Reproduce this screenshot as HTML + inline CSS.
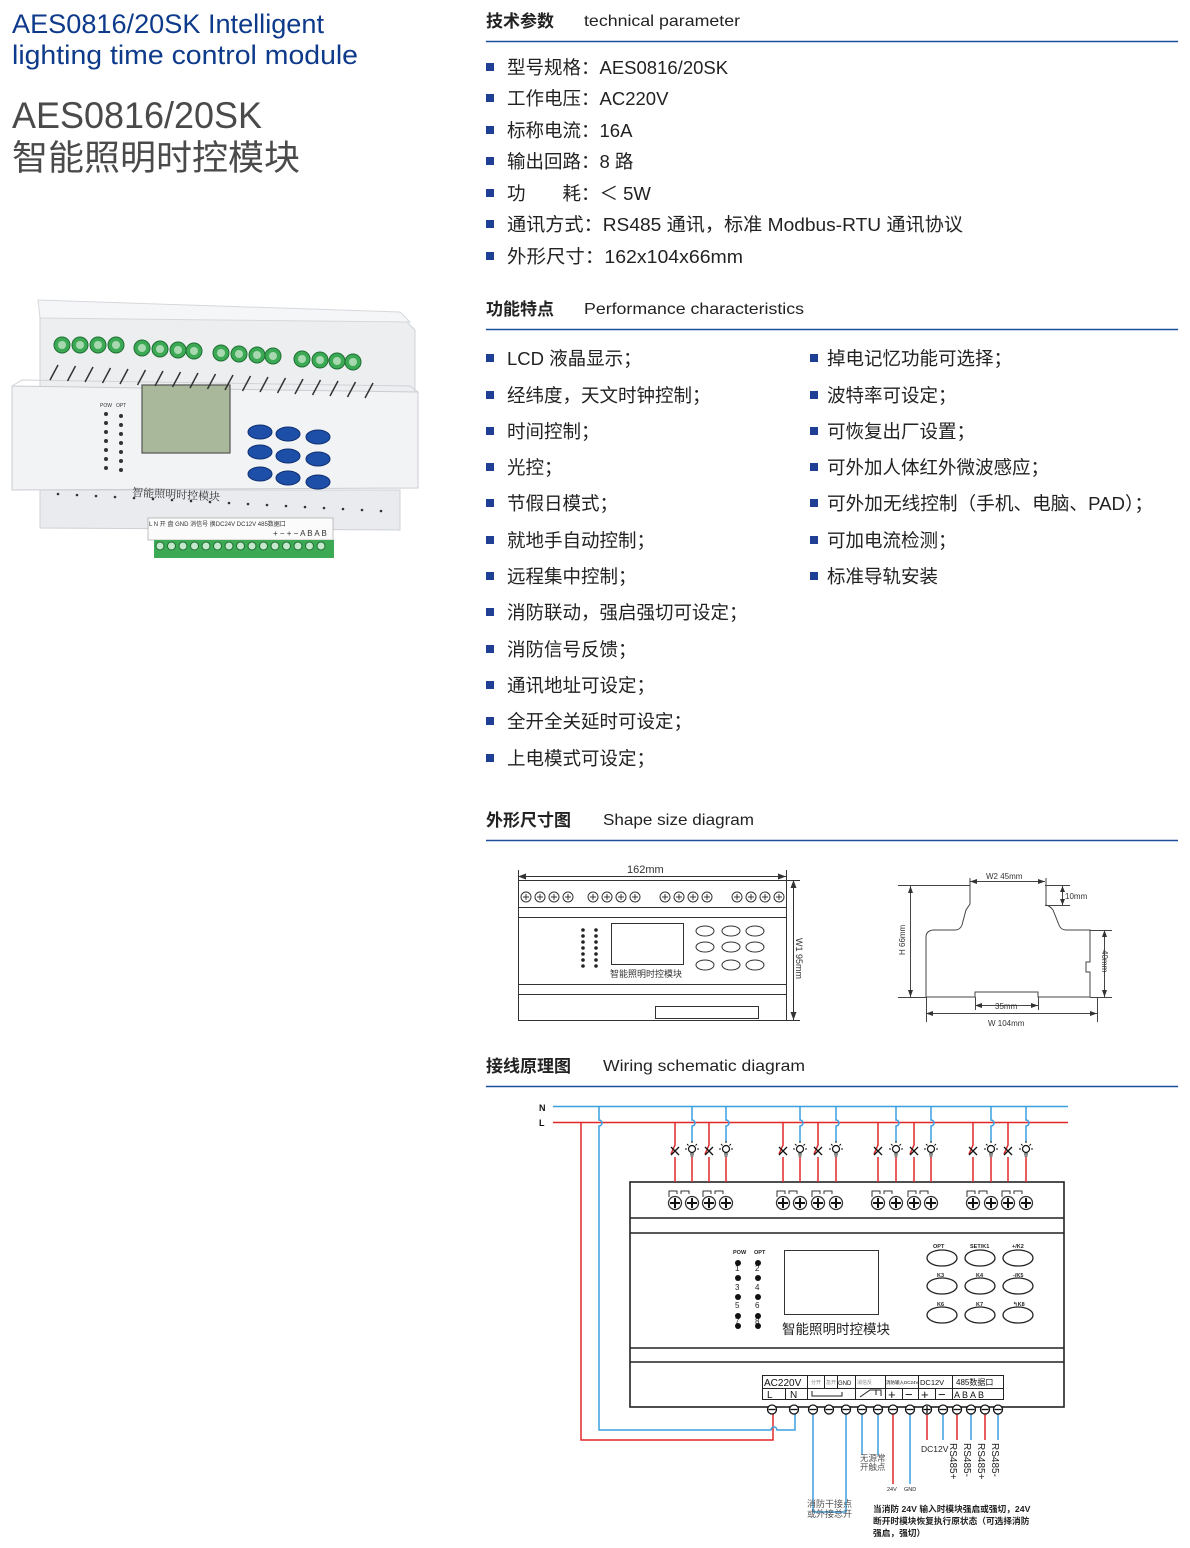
<!DOCTYPE html>
<html><head><meta charset="utf-8">
<style>
html,body{margin:0;padding:0;background:#fff;}
body{width:1190px;height:1548px;overflow:hidden;position:relative;}
svg{position:absolute;left:0;top:0;}
.f{font-family:"Liberation Sans","Noto Sans CJK SC",sans-serif;}
</style></head><body>
<svg id="s" width="1190" height="1548" viewBox="0 0 1190 1548" class="f">
<!-- title -->
<text x="12" y="33" font-size="27" fill="#0d3a8a" textLength="312" lengthAdjust="spacingAndGlyphs">AES0816/20SK  Intelligent</text>
<text x="12" y="64" font-size="27" fill="#0d3a8a" textLength="346" lengthAdjust="spacingAndGlyphs">lighting time control module</text>
<text x="12" y="128" font-size="37" fill="#4a4a4a" textLength="250" lengthAdjust="spacingAndGlyphs">AES0816/20SK</text>
<text x="12" y="170" font-size="35" fill="#4a4a4a" font-family="Noto Sans CJK SC,sans-serif" textLength="288" lengthAdjust="spacingAndGlyphs">智能照明时控模块</text>

<!-- headings -->
<g fill="#222">
<text x="486" y="27" font-size="17" font-weight="bold">技术参数</text>
<text x="584" y="26" font-size="16" textLength="156" lengthAdjust="spacingAndGlyphs">technical parameter</text>
<text x="486" y="315" font-size="17" font-weight="bold">功能特点</text>
<text x="584" y="314" font-size="16" textLength="220" lengthAdjust="spacingAndGlyphs">Performance  characteristics</text>
<text x="486" y="826" font-size="17" font-weight="bold">外形尺寸图</text>
<text x="603" y="825" font-size="16" textLength="151" lengthAdjust="spacingAndGlyphs">Shape size diagram</text>
<text x="486" y="1072" font-size="17" font-weight="bold">接线原理图</text>
<text x="603" y="1071" font-size="16" textLength="202" lengthAdjust="spacingAndGlyphs">Wiring schematic diagram</text>
</g>
<g stroke="#1f4e9a" stroke-width="1.6">
<line x1="486" y1="41.5" x2="1178" y2="41.5"/>
<line x1="486" y1="329.5" x2="1178" y2="329.5"/>
<line x1="486" y1="840.5" x2="1178" y2="840.5"/>
<line x1="486" y1="1086.5" x2="1178" y2="1086.5"/>
</g>

<!-- params -->
<g fill="#1f3f95" id="bul"></g>
<g fill="#222" font-size="18.5">
<text x="507" y="74">型号规格：AES0816/20SK</text>
<text x="507" y="105">工作电压：AC220V</text>
<text x="507" y="137">标称电流：16A</text>
<text x="507" y="168">输出回路：8 路</text>
<text x="507" y="200">功　　耗：＜ 5W</text>
<text x="507" y="231" textLength="456" lengthAdjust="spacingAndGlyphs">通讯方式：RS485 通讯，标准 Modbus-RTU 通讯协议</text>
<text x="507" y="263" textLength="236" lengthAdjust="spacingAndGlyphs">外形尺寸：162x104x66mm</text>
<text x="507" y="365">LCD 液晶显示；</text>
<text x="507" y="402">经纬度，天文时钟控制；</text>
<text x="507" y="438">时间控制；</text>
<text x="507" y="474">光控；</text>
<text x="507" y="510">节假日模式；</text>
<text x="507" y="547">就地手自动控制；</text>
<text x="507" y="583">远程集中控制；</text>
<text x="507" y="619">消防联动，强启强切可设定；</text>
<text x="507" y="656">消防信号反馈；</text>
<text x="507" y="692">通讯地址可设定；</text>
<text x="507" y="728">全开全关延时可设定；</text>
<text x="507" y="765">上电模式可设定；</text>
<text x="827" y="365">掉电记忆功能可选择；</text>
<text x="827" y="402">波特率可设定；</text>
<text x="827" y="438">可恢复出厂设置；</text>
<text x="827" y="474">可外加人体红外微波感应；</text>
<text x="827" y="510" textLength="326" lengthAdjust="spacingAndGlyphs">可外加无线控制（手机、电脑、PAD）；</text>
<text x="827" y="547">可加电流检测；</text>
<text x="827" y="583">标准导轨安装</text>
</g>

<!-- product photo -->
<g id="photo">
<path d="M40 312 L405 320 L415 330 L415 392 L40 392 Z" fill="#eceef0" stroke="#cfd3d8"/>
<path d="M38 300 L400 312 L410 322 L40 318 Z" fill="#f5f6f7" stroke="#d5d8dc"/>
<path d="M12 386 L418 392 L418 488 L12 490 Z" fill="#f2f3f5" stroke="#c9ccd1"/>
<path d="M12 386 L22 380 L410 386 L418 392" fill="none" stroke="#d0d3d8"/>
<path d="M40 490 L400 490 L400 530 L40 528 Z" fill="#e9ebee" stroke="#cdd0d5"/>
<rect x="148" y="518" width="185" height="22" fill="#fbfbfb" stroke="#999" stroke-width=".6"/>
<rect x="142" y="385" width="88" height="68" fill="#a9b89a" stroke="#555" stroke-width="1.2"/>
<text x="132" y="496" font-size="11" fill="#333" font-family="Liberation Serif,Noto Serif CJK SC,serif" transform="rotate(3 132 496)">智能照明时控模块</text>
<text x="100" y="407" font-size="5" fill="#333">POW</text><text x="116" y="407" font-size="5" fill="#333">OPT</text>
<text x="149" y="526" font-size="6" fill="#333">L N 开 盘 GND 消信号 换DC24V DC12V 485数据口</text>
<text x="273" y="536" font-size="8" fill="#333">+ − + − A B A B</text>
</g>

<!-- shape size left -->
<g fill="none" stroke="#333" stroke-width="1">
<rect x="518.5" y="880.5" width="268" height="140"/>
<line x1="518" y1="907.5" x2="786" y2="907.5"/>
<line x1="518" y1="917.5" x2="786" y2="917.5"/>
<line x1="518" y1="984.5" x2="786" y2="984.5"/>
<line x1="518" y1="994.5" x2="786" y2="994.5"/>
<line x1="518" y1="876.5" x2="786" y2="876.5"/>
<line x1="518.5" y1="870" x2="518.5" y2="880"/>
<line x1="786.5" y1="870" x2="786.5" y2="880"/>
<line x1="793.5" y1="880" x2="793.5" y2="1020"/>
<line x1="786" y1="880.5" x2="800" y2="880.5"/>
<line x1="786" y1="1020.5" x2="800" y2="1020.5"/>
<rect x="611.5" y="923.5" width="72" height="41"/>
<rect x="655.5" y="1006.5" width="103" height="12"/>
</g>
<g fill="#333">
<path d="M518 876.5 l8 -3 v6z M786 876.5 l-8 -3 v6z M793.5 880 l-3 8 h6z M793.5 1020 l-3 -8 h6z"/>
<text x="627" y="873" font-size="11">162mm</text>
<text x="610" y="977" font-size="9">智能照明时控模块</text>
<text x="796" y="938" font-size="9" transform="rotate(90 796 938)">W1    95mm</text>
</g>
<g id="sl"></g>

<!-- shape size right -->
<g fill="none" stroke="#444" stroke-width="1">
<line x1="898" y1="885.5" x2="970" y2="885.5"/>
<line x1="1045" y1="885.5" x2="1070" y2="885.5"/>
<line x1="1045" y1="905.5" x2="1070" y2="905.5"/>
<line x1="1090" y1="930.5" x2="1112" y2="930.5"/>
<line x1="898" y1="997.5" x2="926" y2="997.5"/>
<line x1="1090" y1="997.5" x2="1112" y2="997.5"/>
<path d="M970 878 V886 V904 Q968 907 966 910 L962 925 Q960 930 955 930 L933 930 Q926 931 926 937 V997 H975 V992 H1038 V997 H1090 V972 H1086 V962 H1090 V930 H1066 Q1061 930 1059 925 L1053 910 Q1050 906 1046 905 V886 V878"/>
<line x1="970" y1="881.5" x2="1045" y2="881.5"/>
<line x1="910.5" y1="886" x2="910.5" y2="997"/>
<line x1="1062.5" y1="886" x2="1062.5" y2="905"/>
<line x1="1104.5" y1="930" x2="1104.5" y2="997"/>
<line x1="975" y1="1005.5" x2="1038" y2="1005.5"/>
<line x1="926" y1="1013.5" x2="1097" y2="1013.5"/>
<line x1="926.5" y1="997" x2="926.5" y2="1022"/>
<line x1="1097.5" y1="997" x2="1097.5" y2="1022"/>
<line x1="975.5" y1="997" x2="975.5" y2="1010"/>
<line x1="1038.5" y1="997" x2="1038.5" y2="1010"/>
</g>
<g fill="#333" font-size="8">
<path d="M970 881.5 l7 -2.5 v5z M1045 881.5 l-7 -2.5 v5z M910.5 886 l-2.5 7 h5z M910.5 997 l-2.5 -7 h5z M1062.5 886 l-2.5 6 h5z M1062.5 905 l-2.5 -6 h5z M1104.5 930 l-2.5 7 h5z M1104.5 997 l-2.5 -7 h5z M975 1005.5 l7 -2.5 v5z M1038 1005.5 l-7 -2.5 v5z M926 1013.5 l7 -2.5 v5z M1097 1013.5 l-7 -2.5 v5z"/>
<text x="986" y="879">W2  45mm</text>
<text x="1065" y="899">10mm</text>
<text x="995" y="1009">35mm</text>
<text x="988" y="1026">W    104mm</text>
<text x="905" y="955" transform="rotate(-90 905 955)">H    66mm</text>
<text x="1102" y="950" transform="rotate(90 1102 950)">40mm</text>
</g>

<!-- wiring -->
<g font-size="9" font-weight="bold" fill="#111"><text x="539" y="1111">N</text><text x="539" y="1126">L</text></g>
<g fill="none" stroke-width="1.5">
<line x1="553" y1="1106.5" x2="1068" y2="1106.5" stroke="#3a9fe0"/>
<line x1="553" y1="1122.5" x2="1068" y2="1122.5" stroke="#e02828"/>
<path d="M581 1123 V1440 H773 V1412" stroke="#e02828"/>
<path d="M599 1107 V1120 a3 3 0 0 1 0 6 V1430 H771 a3 3 0 0 1 6 0 H795 V1412" stroke="#3a9fe0"/>
</g>
<g fill="none" stroke="#222" stroke-width="1.6">
<rect x="630" y="1182" width="434" height="225"/>
<line x1="630" y1="1218" x2="1064" y2="1218"/>
<line x1="630" y1="1233" x2="1064" y2="1233"/>
<line x1="630" y1="1348" x2="1064" y2="1348"/>
<line x1="630" y1="1362" x2="1064" y2="1362"/>
</g>
<rect x="784.5" y="1250.5" width="94" height="64" fill="none" stroke="#333"/>
<text x="782" y="1334" font-size="13.5" fill="#222">智能照明时控模块</text>
<g font-size="5.5" fill="#222" font-weight="bold">
<text x="733" y="1254">POW</text><text x="754" y="1254">OPT</text>
<text x="933" y="1248">OPT</text><text x="970" y="1248">SET/K1</text><text x="1012" y="1248">+/K2</text>
<text x="937" y="1277">K3</text><text x="976" y="1277">K4</text><text x="1013" y="1277">-/K5</text>
<text x="937" y="1306">K6</text><text x="976" y="1306">K7</text><text x="1013" y="1306">↰K8</text>
</g>
<g font-size="8" fill="#222">
<text x="735" y="1271">1</text><text x="755" y="1271">2</text>
<text x="735" y="1290">3</text><text x="755" y="1290">4</text>
<text x="735" y="1308">5</text><text x="755" y="1308">6</text>
<text x="735" y="1324">7</text><text x="755" y="1324">8</text>
</g>
<!-- terminal table -->
<g fill="none" stroke="#222" stroke-width="1">
<rect x="762.5" y="1375.5" width="241" height="24"/>
<line x1="762" y1="1388.5" x2="1004" y2="1388.5"/>
<line x1="807.5" y1="1375" x2="807.5" y2="1400"/>
<line x1="785.5" y1="1388" x2="785.5" y2="1400"/>
<line x1="824.5" y1="1375" x2="824.5" y2="1388"/>
<line x1="837.5" y1="1375" x2="837.5" y2="1388"/>
<line x1="855.5" y1="1375" x2="855.5" y2="1400"/>
<line x1="885.5" y1="1375" x2="885.5" y2="1400"/>
<line x1="918.5" y1="1375" x2="918.5" y2="1400"/>
<line x1="952.5" y1="1375" x2="952.5" y2="1400"/>
<line x1="902.5" y1="1388" x2="902.5" y2="1400"/>
<line x1="935.5" y1="1388" x2="935.5" y2="1400"/>
<path d="M812 1391 v5 h30 v-4 M860 1397 l10 -7 h6 v5 M873 1390 h8 v6"/>
</g>
<g fill="#111">
<text x="764" y="1386" font-size="10">AC220V</text>
<text x="767" y="1398" font-size="10">L</text><text x="790" y="1398" font-size="10">N</text>
<text x="838" y="1385" font-size="6">GND</text>
<text x="811" y="1384" font-size="5" fill="#888">分开</text><text x="826" y="1384" font-size="5" fill="#888">急开</text>
<text x="857" y="1384" font-size="5" fill="#888">消信反</text>
<text x="886" y="1384" font-size="4.5">消防输入DC24V</text>
<text x="920" y="1385" font-size="7.5">DC12V</text>
<text x="956" y="1385" font-size="8">485数据口</text>
<text x="888" y="1399" font-size="13">+</text><text x="905" y="1399" font-size="13">−</text>
<text x="921" y="1399" font-size="13">+</text><text x="938" y="1399" font-size="13">−</text>
<text x="954" y="1398" font-size="9">A  B  A  B</text>
</g>
<g id="wire"></g>
<g fill="#222">
<text x="921" y="1452" font-size="8.5">DC12V</text>
<text x="950" y="1443" font-size="10" transform="rotate(90 950 1443)">RS485+</text>
<text x="964" y="1443" font-size="10" transform="rotate(90 964 1443)">RS485-</text>
<text x="978" y="1443" font-size="10" transform="rotate(90 978 1443)">RS485+</text>
<text x="992" y="1443" font-size="10" transform="rotate(90 992 1443)">RS485-</text>
<text x="860" y="1461" font-size="8.5" fill="#555">无源常</text>
<text x="860" y="1470" font-size="8.5" fill="#555">开触点</text>
<text x="887" y="1491" font-size="5.5">24V</text><text x="904" y="1491" font-size="5.5">GND</text>
<text x="807" y="1507" font-size="9" fill="#555">消防干接点</text>
<text x="807" y="1517" font-size="9" fill="#555">或外接总开</text>
<text x="873" y="1512" font-size="8.7" font-weight="bold">当消防 24V 输入时模块强启或强切，24V</text>
<text x="873" y="1524" font-size="8.7" font-weight="bold">断开时模块恢复执行原状态（可选择消防</text>
<text x="873" y="1536" font-size="8.7" font-weight="bold">强启，强切）</text>
</g>
</svg>
<script>
var NS="http://www.w3.org/2000/svg";
function el(p,t,a){var e=document.createElementNS(NS,t);for(var k in a)e.setAttribute(k,a[k]);p.appendChild(e);return e;}
var b=document.getElementById('bul');
[67,98,130,161,193,224,256,358,395,431,467,503,540,576,612,649,685,721,758].forEach(function(y){el(b,'rect',{x:486,y:y-4,width:8,height:8});});
[358,395,431,467,503,540,576].forEach(function(y){el(b,'rect',{x:810,y:y-4,width:8,height:8});});
var ph=document.getElementById('photo');
[[62,345],[80,345],[98,345],[116,345],[142,348],[160,349],[178,350],[194,351],[221,353],[239,354],[257,355],[273,356],[302,359],[320,360],[337,361],[353,362]].forEach(function(p){el(ph,'circle',{cx:p[0],cy:p[1],r:8,fill:'#3caa55',stroke:'#1f6e33'});el(ph,'circle',{cx:p[0],cy:p[1],r:4,fill:'#a8d8b0'});});
for(var i=0;i<19;i++){var x=50+i*17.5;el(ph,'line',{x1:x+8,y1:365+i*1,x2:x,y2:380+i,stroke:'#333','stroke-width':1.5});}
for(var i=0;i<18;i++){el(ph,'circle',{cx:58+i*19,cy:494+i*1,r:1.3,fill:'#333'});}
for(var i=0;i<7;i++){el(ph,'circle',{cx:106,cy:414+i*9,r:2,fill:'#333'});el(ph,'circle',{cx:121,cy:416+i*9,r:2,fill:'#333'});}
[[260,432],[288,434],[318,437],[260,452],[288,456],[318,459],[260,474],[288,478],[318,482]].forEach(function(p){el(ph,'ellipse',{cx:p[0],cy:p[1],rx:12,ry:7,fill:'#1e4fa8',stroke:'#0e2f70'});});
el(ph,'rect',{x:154,y:540,width:180,height:18,fill:'#3caa55'});
for(var i=0;i<15;i++){el(ph,'circle',{cx:160+i*11.5,cy:546,r:4,fill:'#c4e8cb',stroke:'#1f6e33'});}
var sl=document.getElementById('sl');
[[530,544,558,572],[597,611,625,639],[669,683,697,711],[741,755,769,783]].forEach(function(g){g.forEach(function(x){x-=4;el(sl,'circle',{cx:x,cy:897,r:5,fill:'none',stroke:'#333'});el(sl,'path',{d:'M'+(x-3)+' 897h6M'+x+' 894v6',stroke:'#333'});});});
for(var i=0;i<7;i++){el(sl,'circle',{cx:583,cy:930+i*6,r:1.8,fill:'#222'});el(sl,'circle',{cx:596,cy:930+i*6,r:1.8,fill:'#222'});}
[705,731,755].forEach(function(x){[931,947,965].forEach(function(y){el(sl,'ellipse',{cx:x,cy:y,rx:9,ry:5,fill:'none',stroke:'#333'});});});
var w=document.getElementById('wire');
var R='#e02828',B='#3a9fe0';
var groups=[[675,692,709,726],[783,800,818,836],[878,896,914,931],[973,991,1008,1026]];
groups.forEach(function(g){
 g.forEach(function(x,j){
  if(j%2==0){el(w,'path',{d:'M'+x+' 1123V1145l-4 9M'+x+' 1157V1182',fill:'none',stroke:R,'stroke-width':1.5});
   el(w,'path',{d:'M'+(x-4)+' 1147l8 8M'+(x+4)+' 1147l-8 8',stroke:'#111','stroke-width':1.3});}
  else{el(w,'path',{d:'M'+x+' 1107V1120a3 3 0 0 1 0 6V1142',fill:'none',stroke:B,'stroke-width':1.5});
   el(w,'path',{d:'M'+x+' 1157V1182',fill:'none',stroke:R,'stroke-width':1.5});
   el(w,'circle',{cx:x,cy:1149,r:3.5,fill:'#fff',stroke:'#111','stroke-width':1.2});
   el(w,'path',{d:'M'+(x-7)+' 1149h2M'+(x+5)+' 1149h2M'+(x-5)+' 1144l1.5 1.5M'+(x+5)+' 1144l-1.5 1.5M'+x+' 1141v2M'+(x-2)+' 1154h4M'+(x-1.5)+' 1156h3',stroke:'#111','stroke-width':1});}
  el(w,'circle',{cx:x,cy:1203,r:6.5,fill:'#fff',stroke:'#333','stroke-width':1.3});
  el(w,'path',{d:'M'+(x-5)+' 1203h10M'+x+' 1198v10',stroke:'#111','stroke-width':2});
 });
 el(w,'path',{d:'M'+(g[0]-6)+' 1197v-6h8v3M'+(g[0]+6)+' 1194v-3h8v3M'+(g[2]-6)+' 1197v-6h8v3M'+(g[2]+6)+' 1194v-3h8v3',fill:'none',stroke:'#333','stroke-width':1});
});
[1263,1278,1297,1316,1326].forEach(function(y){el(w,'circle',{cx:738,cy:y,r:3,fill:'#111'});el(w,'circle',{cx:758,cy:y,r:3,fill:'#111'});});
[942,980,1018].forEach(function(x){[1258,1286,1315].forEach(function(y){el(w,'ellipse',{cx:x,cy:y,rx:15,ry:8,fill:'#fff',stroke:'#222','stroke-width':1.3});});});
var lines=[[813,B,1512],[846,B,1512],[862,B,1455],[878,B,1455],[893,R,1484],[910,B,1484],[927,R,1440],[943,B,1440],[957,R,1440],[971,B,1440],[985,R,1440],[998,B,1440]];
lines.forEach(function(l){el(w,'path',{d:'M'+l[0]+' 1410V'+l[2],stroke:l[1],'stroke-width':1.5,fill:'none'});});
el(w,'path',{d:'M813 1512H846',stroke:B,'stroke-width':1.5});
[772,794,813,829,846,862,878,893,910,927,943,957,971,985,998].forEach(function(x,i){
 el(w,'circle',{cx:x,cy:1409.5,r:4.5,fill:'#fff',stroke:'#111','stroke-width':1.3});
 el(w,'path',{d:'M'+(x-3.5)+' 1409.5h7'+(i==9?'M'+x+' 1406v7':''),stroke:'#111','stroke-width':1.3});
});
</script>
</body></html>
